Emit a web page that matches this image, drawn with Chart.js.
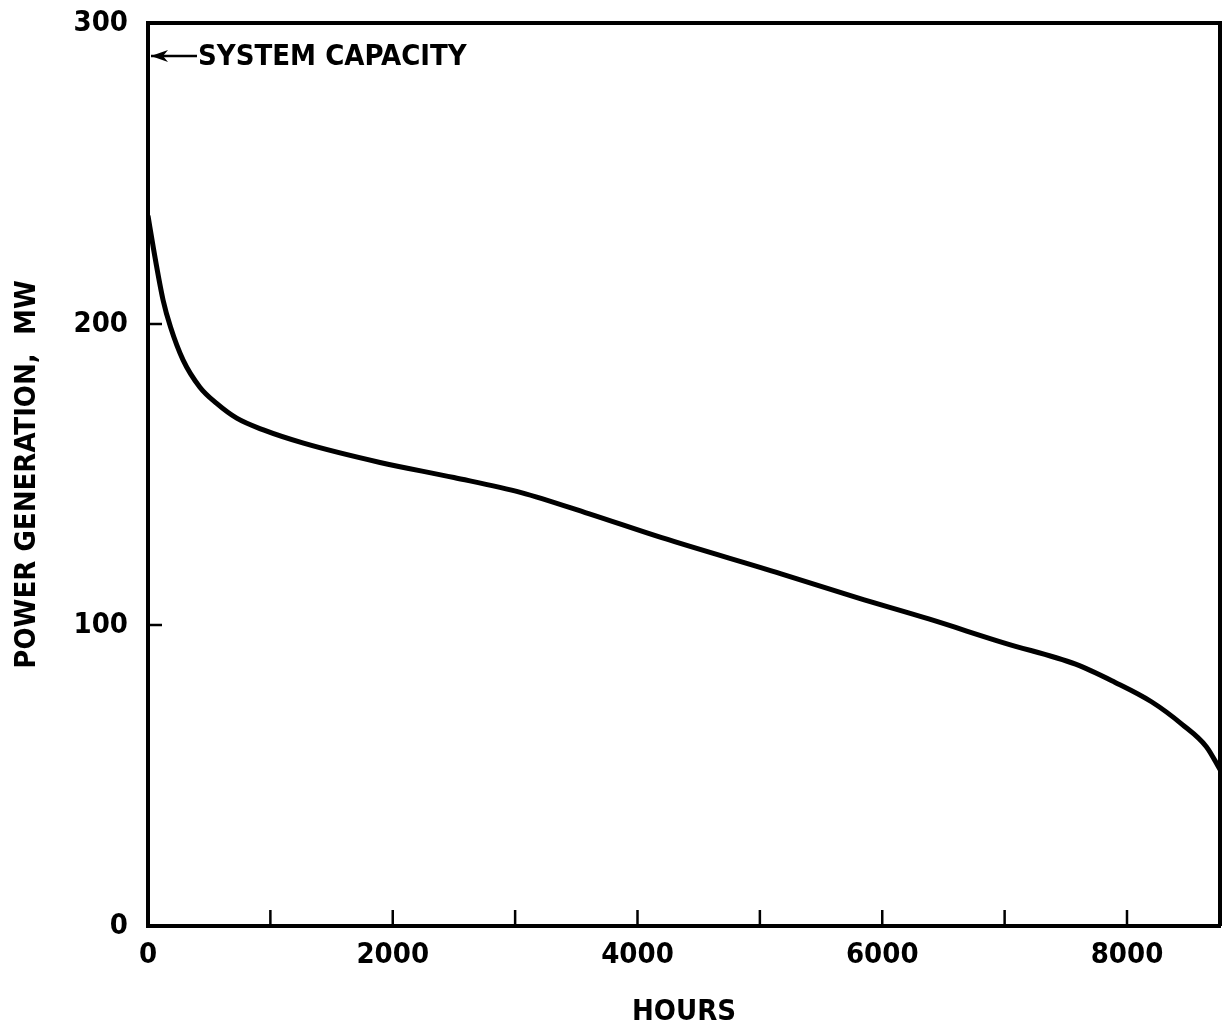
<!DOCTYPE html>
<html>
<head>
<meta charset="utf-8">
<script src="https://cdn.jsdelivr.net/npm/chart.js@4/dist/chart.umd.min.js"></script>
<style>
  html, body { margin: 0; padding: 0; background: #fff; }
  #wrap { width: 1228px; height: 1032px; }
</style>
</head>
<body>
<div id="wrap"><canvas id="chart" width="1228" height="1032"></canvas></div>
<script>
// load duration curve
const hours = [0, 45, 123, 184, 287, 424, 561, 725, 943, 1271, 1896, 2500, 3050, 3600, 4198, 5174, 5800, 6380, 7000, 7580, 7900, 8200, 8450, 8650, 8760];
const powerMW = [236, 225, 208, 199, 188, 179, 173.6, 168.7, 164.8, 160.4, 154, 149, 144, 137, 129, 117, 109, 102, 94, 87, 81, 74.5, 67, 59.5, 52];

const xLabelTicks = [0, 2000, 4000, 6000, 8000];
const xMinorTicks = [1000, 2000, 3000, 4000, 5000, 6000, 7000, 8000];
const yLabelTicks = [0, 100, 200, 300];
const yMinorTicks = [100, 200];
const systemCapacity = 289;
const capacityLabel = 'SYSTEM CAPACITY';

const FONT = "'Liberation Sans Narrow', 'DejaVu Sans Condensed', sans-serif";

// frame, inward ticks and the capacity arrow
const framePlugin = {
  id: 'frame',
  afterDraw(chart) {
    const { ctx, chartArea: a, scales: { x, y } } = chart;
    ctx.save();
    ctx.strokeStyle = '#000';
    ctx.lineWidth = 4;
    ctx.beginPath();
    ctx.moveTo(a.left, a.top);
    ctx.lineTo(a.right, a.top);
    ctx.lineTo(a.right, a.bottom);
    ctx.stroke();

    ctx.lineWidth = 2.5;
    xMinorTicks.forEach(v => {
      const px = x.getPixelForValue(v);
      ctx.beginPath();
      ctx.moveTo(px, a.bottom);
      ctx.lineTo(px, a.bottom - 16);
      ctx.stroke();
    });
    yMinorTicks.forEach(v => {
      const py = y.getPixelForValue(v);
      ctx.beginPath();
      ctx.moveTo(a.left, py);
      ctx.lineTo(a.left + 14, py);
      ctx.stroke();
    });

    // arrow pointing at the axis
    const cy = y.getPixelForValue(systemCapacity);
    const x0 = a.left + 3;
    ctx.lineWidth = 2.5;
    ctx.beginPath();
    ctx.moveTo(x0, cy);
    ctx.lineTo(x0 + 46, cy);
    ctx.stroke();
    ctx.fillStyle = '#000';
    ctx.beginPath();
    ctx.moveTo(x0, cy);
    ctx.lineTo(x0 + 17, cy - 6);
    ctx.lineTo(x0 + 12, cy);
    ctx.lineTo(x0 + 17, cy + 6);
    ctx.closePath();
    ctx.fill();

    ctx.font = 'bold 29px ' + FONT;
    ctx.textBaseline = 'middle';
    ctx.textAlign = 'left';
    ctx.fillText(capacityLabel, x0 + 47, cy + 1);
    ctx.restore();
  }
};

new Chart(document.getElementById('chart'), {
  type: 'line',
  data: {
    datasets: [{
      data: hours.map((h, i) => ({ x: h, y: powerMW[i] })),
      borderColor: '#000',
      borderWidth: 5,
      pointRadius: 0,
      fill: false,
      cubicInterpolationMode: 'monotone'
    }]
  },
  options: {
    responsive: false,
    animation: false,
    layout: { padding: { top: 23, right: 8 } },
    plugins: { legend: { display: false }, tooltip: { enabled: false } },
    scales: {
      x: {
        type: 'linear',
        min: 0,
        max: 8760,
        afterBuildTicks: s => { s.ticks = xLabelTicks.map(v => ({ value: v })); },
        afterFit: s => { s.height = 106; s.paddingLeft = 0; s.paddingRight = 0; },
        grid: { display: false, drawTicks: false },
        border: { display: true, color: '#000', width: 4 },
        ticks: {
          color: '#000',
          padding: 12,
          maxRotation: 0,
          callback: v => String(v),
          font: { family: FONT, size: 29, weight: 'bold' }
        },
        title: {
          display: true,
          text: 'HOURS',
          color: '#000',
          padding: { top: 0, bottom: 2 },
          font: { family: FONT, size: 29, weight: 'bold' }
        }
      },
      y: {
        min: 0,
        max: 300,
        afterBuildTicks: s => { s.ticks = yLabelTicks.map(v => ({ value: v })); },
        afterFit: s => { s.width = 148; s.paddingTop = 0; s.paddingBottom = 0; },
        grid: { display: false, drawTicks: false },
        border: { display: true, color: '#000', width: 4 },
        ticks: {
          color: '#000',
          padding: 20,
          callback: v => String(v),
          font: { family: FONT, size: 29, weight: 'bold' }
        },
        title: {
          display: true,
          text: 'POWER GENERATION,  MW',
          color: '#000',
          padding: { top: 10, bottom: 0 },
          font: { family: FONT, size: 29, weight: 'bold' }
        }
      }
    }
  },
  plugins: [framePlugin]
});
</script>
</body>
</html>
